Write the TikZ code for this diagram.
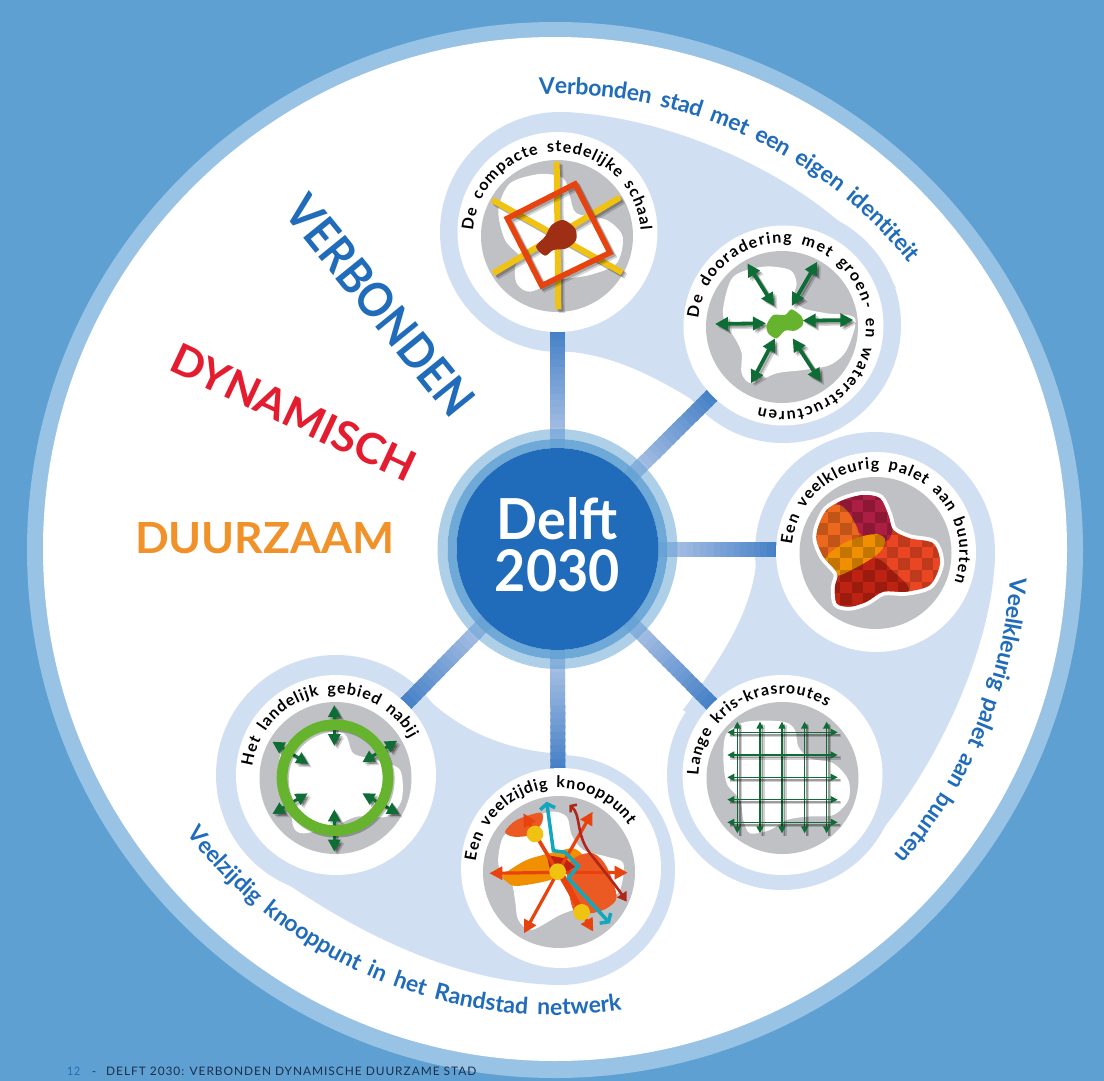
\documentclass[tikz,border=0pt]{standalone}
\usepackage{graphicx}
\usepackage{fontspec}
\setmainfont{Lato}
\newfontfamily\lab{Lato}
\newfontfamily\footf[LetterSpace=8]{Lato}
\usetikzlibrary{calc,arrows.meta}
\definecolor{bgblue}{RGB}{95,160,211}
\definecolor{ringblue}{RGB}{152,195,229}
\definecolor{halo}{RGB}{209,223,242}
\definecolor{deep}{RGB}{32,108,186}
\definecolor{txtblue}{RGB}{32,108,186}
\definecolor{spokestart}{RGB}{190,205,235}
\definecolor{spokeend}{RGB}{68,128,198}
\definecolor{disc}{RGB}{192,193,197}
\definecolor{yel}{RGB}{240,194,18}
\definecolor{redo}{RGB}{232,66,14}
\definecolor{brownish}{RGB}{158,47,20}
\definecolor{dgreen}{RGB}{14,108,53}
\definecolor{lgreen}{RGB}{102,179,46}
\definecolor{crimsonb}{RGB}{172,30,66}
\definecolor{orangeb}{RGB}{236,104,30}
\definecolor{redb}{RGB}{234,70,36}
\definecolor{dred}{RGB}{190,34,18}
\definecolor{amber}{RGB}{240,143,0}
\definecolor{cyanl}{RGB}{19,167,189}
\definecolor{wine}{RGB}{178,38,26}
\definecolor{flame}{RGB}{236,90,36}
\tikzset{
  zoomat/.style 2 args={shift={(#1pt,-#2pt)},x=.33333pt,y=-.33333pt},
  spokeline/.style={line width=15pt},
  dbl/.style={{Triangle[length=#1pt,width=#1pt]}-{Triangle[length=#1pt,width=#1pt]}},
  bigword/.style={inner sep=0pt,outer sep=0pt,anchor=south west},
  glyph/.style={inner sep=0pt,outer sep=0pt,anchor=base}
}
\newcommand\sdraw[2]{%
  \draw[#1,draw=black,opacity=.16,xshift=3.5pt,yshift=-3.5pt] #2;
  \draw[#1,draw=black,opacity=.22,xshift=2pt,yshift=-2pt] #2;
  \draw[#1] #2;}
\newcommand\gridline[1]{%
  \draw[line width=3.4pt,black,opacity=.18,xshift=3pt,yshift=-3pt] #1;
  \draw[line width=1.5pt,black,opacity=.25,xshift=2.5pt,yshift=-2.5pt] #1;
  \draw[line width=1.4pt,dgreen,dbl=7] #1;}
\ExplSyntaxOn
\dim_new:N \l_dz_tot_dim
\box_new:N \l_dz_box
\int_new:N \l_dz_n_int
\fp_new:N \l_dz_pos_fp
\fp_new:N \l_dz_sp_fp
\fp_new:N \l_dz_w_fp
\fp_new:N \l_dz_th_fp
\tl_new:N \l_dz_x_tl
\tl_new:N \l_dz_y_tl
\tl_new:N \l_dz_rot_tl
\cs_new_protected:Npn \dz_measure:nn #1#2
 {
  \str_if_eq:nnTF {#2} {~}
   { \hbox_set:Nn \l_dz_box { \pgfinterruptpicture #1 \skip_horizontal:n { .42em } \endpgfinterruptpicture } }
   { \hbox_set:Nn \l_dz_box { \pgfinterruptpicture #1 #2 \endpgfinterruptpicture } }
 }
\NewDocumentCommand \arcword { m m m m m m m }
 {
  \dim_zero:N \l_dz_tot_dim
  \int_zero:N \l_dz_n_int
  \str_map_inline:nn {#7}
   {
    \dz_measure:nn {#6} {##1}
    \dim_add:Nn \l_dz_tot_dim { \box_wd:N \l_dz_box }
    \int_incr:N \l_dz_n_int
   }
  \fp_set:Nn \l_dz_sp_fp
   { ( #3 * abs(#5 - (#4)) * pi / 180 - \dim_to_fp:n { \l_dz_tot_dim } ) / ( \int_use:N \l_dz_n_int - 1 ) }
  \fp_zero:N \l_dz_pos_fp
  \str_map_inline:nn {#7}
   {
    \dz_measure:nn {#6} {##1}
    \fp_set:Nn \l_dz_w_fp { \dim_to_fp:n { \box_wd:N \l_dz_box } }
    \fp_set:Nn \l_dz_th_fp
     { (#4) + sign(#5 - (#4)) * ( \l_dz_pos_fp + \l_dz_w_fp / 2 ) / #3 * 180 / pi }
    \tl_set:Nx \l_dz_x_tl { \fp_eval:n { round( #1 + #3 * cosd(\l_dz_th_fp) , 3) } }
    \tl_set:Nx \l_dz_y_tl { \fp_eval:n { round( 0 - #2 + #3 * sind(\l_dz_th_fp) , 3) } }
    \tl_set:Nx \l_dz_rot_tl { \fp_eval:n { round( \l_dz_th_fp + 90 * sign(#5 - (#4)) , 3) } }
    \str_if_eq:nnF {##1} {~}
     { \node[glyph,rotate=\l_dz_rot_tl,font=#6]~at~(\l_dz_x_tl pt,\l_dz_y_tl pt)~{##1}; }
    \fp_set:Nn \l_dz_pos_fp { \l_dz_pos_fp + \l_dz_w_fp + \l_dz_sp_fp }
   }
 }
\ExplSyntaxOff
\newcommand\satfont{\lab\bfseries\fontsize{16}{16}\selectfont\color{black}}
\newcommand\rimfont{\lab\bfseries\fontsize{23}{23}\selectfont\color{txtblue}}
\begin{document}
\begin{tikzpicture}[x=1pt,y=1pt]
\useasboundingbox (0,0) rectangle (1104,-1081);
\fill[bgblue] (0,0) rectangle (1104,-1081);
\fill[ringblue] (555,-550) circle[radius=528];
\fill[white] (555,-549) circle[radius=512];
% coordinates
\coordinate (c) at (557.5,-549);
\coordinate (t1) at (557.5,-232);
\coordinate (t2) at (783,-325);
\coordinate (t3) at (876,-549);
\coordinate (t4) at (782,-775);
\coordinate (t5) at (558,-868);
\coordinate (t6) at (336,-775);
% halos
\fill[halo] (560,-232) circle[radius=120];
\fill[halo] (783,-325) circle[radius=118];
\fill[halo] (560,-112) .. controls (680,-115) and (840,-190) .. (896,-288) -- (783,-325) -- (745,-432) .. controls (690,-400) and (630,-352) .. (555,-351) -- cycle;
\fill[halo] (875,-552) circle[radius=120];
\fill[halo] (782,-775) circle[radius=115];
\fill[halo] (995,-555) .. controls (993,-650) and (930,-790) .. (846,-869) -- (782,-775) -- (683,-710) .. controls (720,-660) and (755,-610) .. (757,-552) -- cycle;
\fill[halo] (336,-775) circle[radius=120];
\fill[halo] (560,-870) circle[radius=115];
\fill[halo] (415,-686) .. controls (450,-725) and (500,-752) .. (567,-754) -- (561,-868) -- (565,-985) .. controls (450,-985) and (340,-925) .. (247,-855) -- (336,-775) -- cycle;
% spokes
\foreach \tgt in {t1,t2,t3,t4,t5,t6}{
  \foreach \n in {0,...,19}{
    \pgfmathsetmacro\fa{.28+.021*\n}
    \pgfmathsetmacro\fb{\fa+.03}
    \pgfmathtruncatemacro\pc{\n*5.3}
    \draw[spokeline,draw=spokeend!\pc!spokestart] ($(c)!\fa!(\tgt)$) -- ($(c)!\fb!(\tgt)$);
  }
}
% satellite discs
\foreach \xx/\yy in {557.5/232,783.5/325.5,876/552,782.5/775,561/868,336/775}{
  \fill[white] (\xx,-\yy) circle[radius=100];}
\foreach \xx/\yy in {557/236,782/327,875.5/553,782.5/778,559/872,335.5/778}{
  \fill[disc] (\xx,-\yy) circle[radius=76];}

% ---- Sat 1
\begin{scope}[zoomat={430}{100}]
\fill[white] plot[smooth cycle] coordinates {(205,330)(240,250)(330,222)(400,235)(420,290)(440,340)(530,360)(578,410)(560,490)(480,525)(390,540)(300,575)(260,550)(255,500)(270,470)(225,420)};
\sdraw{line width=6pt,draw=yel}{(380,185) -- (385,628)}
\sdraw{line width=6pt,draw=yel}{(187,300) -- (577,518)}
\sdraw{line width=6pt,draw=yel}{(570,292) -- (190,520)}
\sdraw{line width=5.5pt,draw=redo,line join=miter}{(435,252) -- (540,458) -- (335,557) -- (232,355) -- cycle}
\fill[brownish] plot[smooth cycle] coordinates {(318,440)(345,410)(365,375)(400,360)(435,385)(438,420)(410,445)(370,450)(345,467)};
\end{scope}
% ---- Sat 2
\begin{scope}[zoomat={670}{210}]
\fill[white] plot[smooth cycle] coordinates {(160,290)(190,200)(280,170)(360,180)(380,220)(370,265)(400,295)(470,310)(555,325)(530,420)(480,465)(400,480)(320,490)(245,520)(215,490)(215,430)(195,385)(165,340)};
\sdraw{line width=3.8pt,draw=dgreen,dbl=13}{(232,160) -- (312,288)}
\sdraw{line width=3.8pt,draw=dgreen,dbl=13}{(442,155) -- (365,288)}
\sdraw{line width=3.8pt,draw=dgreen,dbl=13}{(135,342) -- (288,340)}
\sdraw{line width=3.8pt,draw=dgreen,dbl=13}{(398,332) -- (550,330)}
\sdraw{line width=3.8pt,draw=dgreen,dbl=13}{(315,385) -- (243,520)}
\sdraw{line width=3.8pt,draw=dgreen,dbl=13}{(368,385) -- (452,515)}
\fill[lgreen] plot[smooth cycle] coordinates {(290,345)(310,315)(345,315)(365,298)(395,320)(398,345)(375,362)(345,362)(320,385)(295,370)};
\end{scope}
% ---- Sat 3
\begin{scope}[zoomat={760}{460}]
\draw[white,line width=8pt] plot[smooth cycle] coordinates {(175,200)(200,150)(250,120)(310,105)(360,115)(385,165)(400,210)(450,235)(520,250)(540,310)(510,375)(440,395)(370,395)(320,425)(270,440)(230,430)(225,380)(232,340)(190,290)(170,240)};
\begin{scope}
\clip plot[smooth cycle] coordinates {(175,200)(200,150)(250,120)(310,105)(360,115)(385,165)(400,210)(450,235)(520,250)(540,310)(510,375)(440,395)(370,395)(320,425)(270,440)(230,430)(225,380)(232,340)(190,290)(170,240)};
\fill[redb] (150,90) rectangle (560,460);
\fill[crimsonb] plot[smooth cycle] coordinates {(230,125)(300,90)(380,95)(400,180)(385,240)(330,240)(280,200)};
\fill[dred] plot[smooth cycle] coordinates {(225,350)(340,295)(400,335)(445,395)(320,460)(200,460)};
\fill[orangeb] plot[smooth cycle] coordinates {(238,135)(280,180)(293,240)(200,295)(150,230)(170,160)};
\fill[amber] plot[smooth cycle] coordinates {(198,290)(260,245)(340,222)(374,235)(365,270)(320,305)(235,347)(205,325)};
\foreach \ci in {0,...,11}{\foreach \cj in {0,...,10}{
  \pgfmathtruncatemacro\cm{mod(\ci+\cj,2)}
  \ifnum\cm=0 \fill[black,opacity=.18] ({135+35*\ci},{85+35*\cj}) rectangle +(35,35); \fi
}}
\end{scope}
\end{scope}
% ---- Sat 4
\begin{scope}[zoomat={660}{670}]
\fill[white] plot[smooth cycle] coordinates {(190,260)(200,190)(260,155)(370,155)(405,180)(415,230)(450,265)(520,280)(565,330)(565,390)(520,435)(440,440)(380,450)(330,480)(270,490)(250,450)(240,390)(200,340)};
\foreach \vx in {232,300,366,434,500}{
  \gridline{(\vx,155) -- (\vx,490)}}
\foreach \hy in {187,255,322,389,457}{
  \gridline{(202,\hy) -- (533,\hy)}}
\end{scope}
% ---- Sat 5
\begin{scope}[zoomat={450}{760}]
\fill[white] plot[smooth cycle] coordinates {(145,290)(160,230)(210,190)(300,155)(350,170)(365,225)(400,270)(470,290)(520,310)(510,390)(470,420)(400,440)(330,465)(245,510)(205,480)(195,420)(185,370)(150,330)};
\fill[flame] plot[smooth cycle] coordinates {(165,215)(200,180)(272,158)(275,190)(240,225)(190,230)};
\fill[amber] plot[smooth cycle] coordinates {(160,345)(230,300)(320,275)(370,265)(400,290)(370,320)(300,360)(200,378)(170,365)};
\fill[flame] plot[smooth cycle] coordinates {(350,330)(380,290)(430,280)(470,320)(500,410)(470,445)(420,460)(370,450)};
\fill[dred] (290,285) -- (345,295) -- (375,320) -- (345,340) -- (300,330) -- cycle;
\draw[redo,line width=3.5pt] (323,335) -- (255,222);
\draw[redo,line width=6pt] (335,345) -- (395,457);
\foreach \ex/\ey in {118/340,533/338,222/520,428/155,430/515,220/160}{
  \draw[redo,line width=3.2pt,-{Triangle[length=13pt,width=13pt]}] (323,337) -- (\ex,\ey);}
\draw[wine,line width=2.6pt,{Straight Barb[length=4pt,width=10pt]}-{Triangle[length=9pt,width=11pt]}] (358,135) .. controls (395,165) and (375,220) .. (420,280) .. controls (460,330) and (500,380) .. (530,425);
\draw[cyanl,line width=3.5pt,{Straight Barb[length=5pt,width=15pt]}-{Straight Barb[length=5pt,width=15pt]}] (290,125) -- (310,272) -- (345,277) -- (385,318) -- (355,355) -- (480,490);
\fill[yel] (255,222) circle[radius=25];
\fill[yel] (323,335) circle[radius=25];
\fill[yel] (395,457) circle[radius=25];
\end{scope}
% ---- Sat 6
\begin{scope}[zoomat={210}{670}]
\fill[white] plot[smooth cycle] coordinates {(215,240)(290,190)(400,190)(430,250)(500,270)(570,300)(575,390)(530,440)(440,440)(370,470)(280,490)(250,470)(240,400)(210,340)};
\sdraw{line width=3pt,draw=dgreen,dbl=12}{(373,105) -- (373,228)}
\sdraw{line width=3pt,draw=dgreen,dbl=12}{(373,418) -- (373,545)}
\sdraw{line width=3pt,draw=dgreen,dbl=12}{(187,215) -- (295,282)}
\sdraw{line width=3pt,draw=dgreen,dbl=12}{(562,212) -- (457,277)}
\sdraw{line width=3pt,draw=dgreen,dbl=12}{(187,432) -- (293,370)}
\sdraw{line width=3pt,draw=dgreen,dbl=12}{(568,432) -- (457,370)}
\draw[black,opacity=.25,line width=10.7pt] (379,328) circle[radius=159];
\draw[lgreen,line width=10.7pt] (375,323) circle[radius=159];
\end{scope}
% satellite labels
\arcword{557}{236}{84}{176}{4}{\satfont}{De compacte stedelijke schaal}
\arcword{782}{327}{84}{174}{-106}{\satfont}{De dooradering met groen- en waterstructuren}
\arcword{875.5}{553}{84}{174}{-20}{\satfont}{Een veelkleurig palet aan buurten}
\arcword{782.5}{778}{84}{178}{58}{\satfont}{Lange kris-krasroutes}
\arcword{559}{872}{84}{173}{34}{\satfont}{Een veelzijdig knooppunt}
\arcword{335.5}{778}{84}{172}{28}{\satfont}{Het landelijk gebied nabij}
% rim labels
\arcword{555}{550}{456}{92}{39}{\rimfont}{Verbonden stad met een eigen identiteit}
\arcword{555}{550}{456}{-3.5}{-42}{\rimfont}{Veelkleurig palet aan buurten}
\arcword{555}{550}{465}{217.6}{278.3}{\rimfont}{Veelzijdig knooppunt in het Randstad netwerk}
% centre
\fill[bgblue,opacity=.5,even odd rule] (c) circle[radius=120] (c) circle[radius=110];
\fill[bgblue,opacity=.9,even odd rule] (c) circle[radius=110] (c) circle[radius=101];
\fill[deep] (c) circle[radius=101];
\node[inner sep=0pt,anchor=south,text=white,font=\bfseries] (delft) at (557.5,-540) {\resizebox{121pt}{42pt}{Delft}};
\node[inner sep=0pt,anchor=south,text=white,font=\bfseries] (year) at (557.5,-592) {\resizebox{125pt}{42pt}{2030}};
% big words
\node[bigword,rotate=-50.9,text=txtblue,font=\bfseries] (verb) at (282,-213) {\resizebox{267pt}{35pt}{VERBONDEN}};
\node[bigword,rotate=-25.2,text={rgb,255:red,227;green,29;blue,47},font=\bfseries] (dyn) at (167,-370) {\resizebox{265pt}{31pt}{DYNAMISCH}};
\node[bigword,text={rgb,255:red,241;green,145;blue,42},font=\bfseries] (duur) at (135,-553.5) {\resizebox{259pt}{31pt}{DUURZAAM}};
% footer
\node[inner sep=0pt,anchor=base west,text=deep] (pg) at (67,-1075) {\resizebox{13pt}{8.5pt}{\footf 12}};
\node[inner sep=0pt,anchor=base west,text={rgb,255:red,28;green,47;blue,74}] (dash) at (92,-1075) {\footf\fontsize{11}{11}\selectfont -};
\node[inner sep=0pt,anchor=base west,text={rgb,255:red,28;green,47;blue,74}] (foot) at (106,-1075) {\resizebox{370pt}{8.5pt}{\footf DELFT 2030: VERBONDEN DYNAMISCHE DUURZAME STAD}};
\end{tikzpicture}
\end{document}
